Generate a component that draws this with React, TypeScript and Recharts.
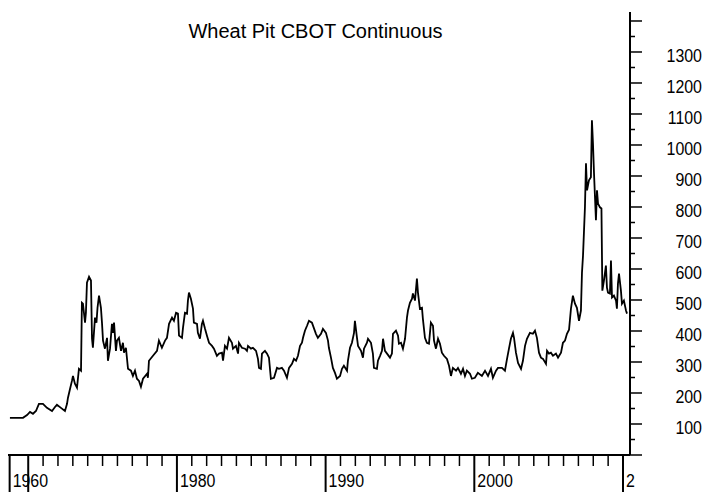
import React from 'react';
import { LineChart, Line, XAxis, YAxis } from 'recharts';

const TITLE = 'Wheat Pit CBOT Continuous';

const YEARS = [
  1968.77, 1969.65, 1969.92, 1970.12, 1970.32, 1970.52, 1970.72, 1970.99, 1971.26, 1971.6,
  1971.8, 1971.93, 1972.2, 1972.47, 1972.61, 1972.67, 1972.81, 1972.94, 1973.01, 1973.14,
  1973.28, 1973.41, 1973.55, 1973.61, 1973.68, 1973.82, 1973.88, 1973.95, 1974.09, 1974.22,
  1974.29, 1974.35, 1974.49, 1974.59, 1974.66, 1974.76, 1974.89, 1974.96, 1975.03, 1975.16,
  1975.3, 1975.36, 1975.5, 1975.63, 1975.7, 1975.77, 1975.9, 1975.97, 1976.1, 1976.24,
  1976.37, 1976.44, 1976.57, 1976.71, 1976.91, 1977.04, 1977.18, 1977.31, 1977.45, 1977.58,
  1977.72, 1977.99, 1978.05, 1978.12, 1978.39, 1978.66, 1978.79, 1978.99, 1979.2, 1979.33,
  1979.47, 1979.67, 1979.8, 1979.94, 1980.07, 1980.14, 1980.34, 1980.41, 1980.54, 1980.68,
  1980.74, 1980.81, 1980.94, 1981.08, 1981.14, 1981.35, 1981.41, 1981.55, 1981.68, 1981.75,
  1981.89, 1982.02, 1982.16, 1982.36, 1982.49, 1982.69, 1982.83, 1983.03, 1983.1, 1983.23,
  1983.37, 1983.5, 1983.7, 1983.77, 1983.97, 1984.11, 1984.17, 1984.37, 1984.58, 1984.71,
  1984.78, 1984.98, 1985.11, 1985.32, 1985.45, 1985.52, 1985.65, 1985.72, 1985.92, 1986.06,
  1986.19, 1986.32, 1986.53, 1986.73, 1986.86, 1987.06, 1987.2, 1987.4, 1987.54, 1987.74,
  1987.87, 1988.01, 1988.14, 1988.28, 1988.41, 1988.48, 1988.61, 1988.75, 1988.88, 1989.08,
  1989.35, 1989.48, 1989.69, 1989.82, 1990.02, 1990.16, 1990.22, 1990.36, 1990.49, 1990.63,
  1990.76, 1990.97, 1991.1, 1991.23, 1991.44, 1991.5, 1991.64, 1991.77, 1991.91, 1991.97,
  1992.11, 1992.18, 1992.38, 1992.51, 1992.58, 1992.78, 1992.85, 1993.05, 1993.18, 1993.25,
  1993.45, 1993.52, 1993.66, 1993.79, 1993.86, 1993.99, 1994.13, 1994.33, 1994.46, 1994.53,
  1994.73, 1994.87, 1994.93, 1995.07, 1995.2, 1995.34, 1995.47, 1995.54, 1995.67, 1995.81,
  1995.87, 1996.01, 1996.14, 1996.21, 1996.34, 1996.48, 1996.54, 1996.68, 1996.81, 1996.95,
  1997.08, 1997.22, 1997.29, 1997.42, 1997.56, 1997.69, 1997.82, 1997.96, 1998.16, 1998.3,
  1998.43, 1998.56, 1998.77, 1998.9, 1999.1, 1999.24, 1999.37, 1999.5, 1999.71, 1999.84,
  2000.04, 2000.24, 2000.51, 2000.72, 2000.92, 2001.12, 2001.25, 2001.46, 2001.59, 2001.86,
  2002.06, 2002.2, 2002.33, 2002.46, 2002.6, 2002.67, 2002.8, 2002.94, 2003.14, 2003.27,
  2003.41, 2003.54, 2003.74, 2003.94, 2004.08, 2004.21, 2004.35, 2004.48, 2004.62, 2004.82,
  2004.89, 2005.02, 2005.15, 2005.29, 2005.49, 2005.63, 2005.83, 2005.96, 2006.1, 2006.23,
  2006.37, 2006.5, 2006.63, 2006.77, 2006.9, 2007.04, 2007.17, 2007.24, 2007.31, 2007.44,
  2007.51, 2007.58, 2007.71, 2007.84, 2007.91, 2007.98, 2008.05, 2008.18, 2008.25, 2008.32,
  2008.45, 2008.55, 2008.61, 2008.72, 2008.85, 2008.92, 2008.99, 2009.12, 2009.19, 2009.26,
  2009.39, 2009.53, 2009.59, 2009.66, 2009.73, 2009.86, 2009.93, 2010.06, 2010.2, 2010.27,
];

const PRICES = [
  120, 120, 129, 139, 133, 142, 165, 165, 152, 142,
  155, 162, 152, 142, 165, 184, 213, 239, 255, 230,
  217, 278, 272, 491, 488, 427, 459, 556, 575, 563,
  375, 346, 443, 427, 475, 514, 475, 427, 369, 343,
  378, 304, 343, 423, 394, 427, 336, 369, 378, 336,
  362, 330, 346, 278, 272, 255, 272, 246, 239, 220,
  246, 262, 249, 304, 320, 336, 369, 346, 369, 378,
  423, 443, 433, 459, 456, 385, 378, 411, 459, 456,
  498, 524, 504, 472, 427, 423, 394, 375, 423, 433,
  407, 385, 362, 352, 343, 320, 327, 330, 304, 352,
  343, 378, 362, 343, 352, 327, 362, 346, 343, 336,
  352, 343, 346, 336, 310, 281, 278, 327, 336, 327,
  314, 246, 249, 281, 278, 281, 272, 249, 281, 294,
  310, 304, 320, 352, 362, 378, 401, 417, 433, 427,
  391, 378, 391, 407, 394, 369, 346, 314, 281, 265,
  246, 255, 278, 288, 272, 304, 346, 362, 394, 433,
  378, 352, 336, 314, 343, 362, 375, 362, 327, 281,
  278, 304, 320, 336, 375, 336, 327, 314, 327, 391,
  401, 385, 359, 362, 343, 375, 443, 466, 491, 504,
  521, 498, 569, 524, 472, 475, 440, 378, 362, 359,
  427, 417, 369, 343, 375, 359, 330, 320, 310, 288,
  255, 281, 272, 281, 262, 278, 255, 272, 262, 246,
  249, 265, 255, 272, 255, 278, 249, 272, 281, 281,
  272, 310, 343, 375, 394, 378, 330, 297, 278, 304,
  352, 375, 394, 391, 401, 378, 330, 314, 310, 294,
  336, 327, 330, 320, 327, 314, 330, 362, 369, 391,
  404, 472, 514, 488, 475, 433, 466, 588, 643, 799,
  941, 854, 886, 896, 1080, 1005, 908, 757, 854, 811,
  799, 795, 530, 563, 611, 540, 524, 521, 627, 508,
  514, 498, 472, 553, 585, 530, 488, 498, 466, 456,
];

const X_DOMAIN = [1968.64, 2010.47];
const X_START = 1968.75;
const X_TICKS = [X_START, 1970, 1971, 1972, 1973, 1974, 1975, 1976, 1977, 1978, 1979,
  1980, 1981, 1982, 1983, 1984, 1985, 1986, 1987, 1988, 1989,
  1990, 1991, 1992, 1993, 1994, 1995, 1996, 1997, 1998, 1999,
  2000, 2001, 2002, 2003, 2004, 2005, 2006, 2007, 2008, 2009, 2010];
const X_MAJOR = [X_START, 1970, 1980, 1990, 2000, 2010];
const X_LABEL_VALUES = [X_START, 1980, 1990, 2000, 2010];
const X_LABEL_TEXTS = ['1960', '1980', '1990', '2000', '2'];

const Y_DOMAIN = [0, 1429];
const Y_TICKS = [0, 50, 100, 150, 200, 250, 300, 350, 400, 450, 500, 550, 600, 650, 700,
  750, 800, 850, 900, 950, 1000, 1050, 1100, 1150, 1200, 1250, 1300, 1350, 1400];
const Y_LABELS = [100, 200, 300, 400, 500, 600, 700, 800, 900, 1000, 1100, 1200, 1300];

const data = YEARS.map((year, i) => ({ year, price: PRICES[i] }));

const FONT = '"Liberation Sans", Arial, sans-serif';

const XTick = (props: any) => {
  const { x, y, payload } = props;
  const v = payload.value;
  const major = X_MAJOR.includes(v);
  const li = X_LABEL_VALUES.indexOf(v);
  return (
    <g>
      <line x1={x} x2={x} y1={y} y2={y + (major ? 37 : 11)} stroke="#000" strokeWidth={major ? 2 : 1.5} />
      {li >= 0 && (
        <text
          transform={`translate(${x + 3},${y + 32}) scale(0.84,1)`}
          fontFamily={FONT}
          fontSize={19}
          fill="#000"
          textAnchor="start"
        >
          {X_LABEL_TEXTS[li]}
        </text>
      )}
    </g>
  );
};

const YTick = (props: any) => {
  const { x, y, payload } = props;
  const v = payload.value;
  const major = v % 100 === 0;
  return (
    <g>
      <line x1={x} x2={x + (major ? 12 : 5)} y1={y} y2={y} stroke="#000" strokeWidth={1.5} />
      {Y_LABELS.includes(v) && (
        <text
          transform={`translate(${x + 72},${y + 10}) scale(0.84,1)`}
          fontFamily={FONT}
          fontSize={19}
          fill="#000"
          textAnchor="end"
        >
          {v}
        </text>
      )}
    </g>
  );
};

export default function App() {
  return (
    <div style={{ position: 'absolute', left: 0, top: 0, width: 706, height: 492, background: '#fff' }}>
      <div
        style={{
          position: 'absolute',
          left: 0,
          top: 21,
          width: 631,
          textAlign: 'center',
          fontFamily: FONT,
          fontSize: 20,
          lineHeight: '20px',
          color: '#000',
          whiteSpace: 'nowrap',
          zIndex: 2,
        }}
      >
        {TITLE}
      </div>
      <LineChart width={706} height={492} data={data} margin={{ top: 12, right: 0, left: 8, bottom: 0 }}>
        <XAxis
          dataKey="year"
          type="number"
          domain={X_DOMAIN}
          ticks={X_TICKS}
          interval={0}
          height={37}
          tickSize={0}
          tickMargin={0}
          tickLine={false}
          axisLine={{ stroke: '#000', strokeWidth: 2 }}
          tick={<XTick />}
          allowDataOverflow
        />
        <YAxis
          orientation="right"
          type="number"
          domain={Y_DOMAIN}
          ticks={Y_TICKS}
          interval={0}
          width={76}
          tickSize={0}
          tickMargin={0}
          tickLine={false}
          axisLine={{ stroke: '#000', strokeWidth: 2 }}
          tick={<YTick />}
          allowDataOverflow
        />
        <Line
          dataKey="price"
          type="linear"
          stroke="#000"
          strokeWidth={1.8}
          dot={false}
          isAnimationActive={false}
        />
      </LineChart>
    </div>
  );
}
